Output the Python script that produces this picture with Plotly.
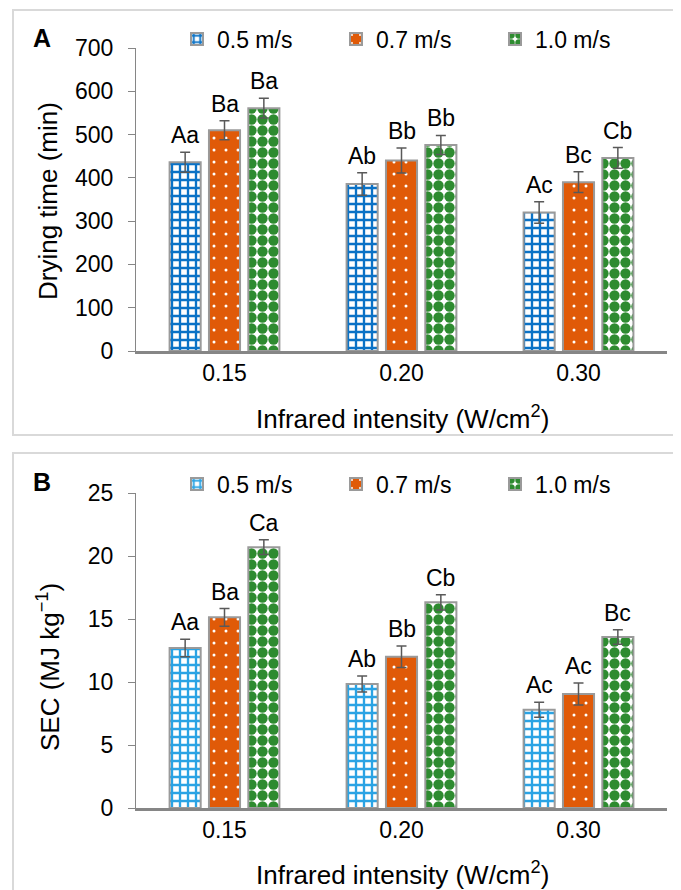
import plotly.graph_objects as go

# ---------------- data ----------------
intensity_labels = ["0.15", "0.20", "0.30"]
series_names = ["0.5 m/s", "0.7 m/s", "1.0 m/s"]

drying_time = {
    "0.5 m/s": [436, 386, 320],
    "0.7 m/s": [510, 440, 390],
    "1.0 m/s": [561, 476, 446],
}
drying_time_err = {
    "0.5 m/s": [23, 26, 25],
    "0.7 m/s": [22, 29, 24],
    "1.0 m/s": [23, 22, 24],
}
drying_time_letters = {
    "0.5 m/s": ["Aa", "Ab", "Ac"],
    "0.7 m/s": ["Ba", "Bb", "Bc"],
    "1.0 m/s": ["Ba", "Bb", "Cb"],
}

sec = {
    "0.5 m/s": [12.7, 9.84, 7.8],
    "0.7 m/s": [15.13, 12.0, 9.05],
    "1.0 m/s": [20.7, 16.32, 13.57],
}
sec_err = {
    "0.5 m/s": [0.7, 0.63, 0.6],
    "0.7 m/s": [0.7, 0.85, 0.87],
    "1.0 m/s": [0.58, 0.6, 0.58],
}
sec_letters = {
    "0.5 m/s": ["Aa", "Ab", "Ac"],
    "0.7 m/s": ["Ba", "Bb", "Ac"],
    "1.0 m/s": ["Ca", "Cb", "Bc"],
}

y_ticks_a = [0, 100, 200, 300, 400, 500, 600, 700]
y_ticks_b = [0, 5, 10, 15, 20, 25]

# ---------------- styles ----------------
PAGE_OFF = 8  # default body margin of the html page
W, H = 681 - PAGE_OFF, 890 - PAGE_OFF
FONT = "Arial, Liberation Sans, sans-serif"
AXIS_GRAY = "#868686"
BAR_EDGE = "#9A9A9A"
ERR_COLOR = "#595959"

def pattern_for(name, panel):
    if name == "0.5 m/s":
        blue = "#0A72C6" if panel == "A" else "#2AA3E4"
        return dict(color="white",
                    pattern=dict(shape="+", fgcolor=blue, bgcolor="white",
                                 fillmode="replace", size=8, solidity=0.5))
    if name == "0.7 m/s":
        return dict(color="#E05A08",
                    pattern=dict(shape=".", fgcolor="white", bgcolor="#E05A08",
                                 fillmode="replace", size=12, solidity=0.05))
    return dict(color="white",
                pattern=dict(shape=".", fgcolor="#2E8B30", bgcolor="white",
                             fillmode="replace", size=11, solidity=0.7))

x_pos = list(range(len(intensity_labels)))
BARGAP = 0.333
BARGROUPGAP = 0.21

fig = go.Figure()

panels = [
    ("A", drying_time, drying_time_err, drying_time_letters, "x", "y", "legend"),
    ("B", sec, sec_err, sec_letters, "x2", "y2", "legend2"),
]

annotations = []
slot = (1 - BARGAP) / len(series_names)
for panel, vals, errs, letters, xa, ya, lg in panels:
    for k, name in enumerate(series_names):
        m = pattern_for(name, panel)
        m["line"] = dict(color=BAR_EDGE, width=2)
        fig.add_trace(go.Bar(
            x=x_pos, y=vals[name], name=name, marker=m,
            error_y=dict(type="data", array=errs[name], color=ERR_COLOR,
                         thickness=1.5, width=5),
            xaxis=xa, yaxis=ya, legend=lg,
        ))
        off = (k - (len(series_names) - 1) / 2) * slot
        for i in x_pos:
            annotations.append(dict(
                x=i + off, y=vals[name][i] + errs[name][i],
                xref=xa, yref=ya, text=letters[name][i], showarrow=False,
                xanchor="center", yanchor="bottom", yshift=2,
                font=dict(family=FONT, size=23, color="black")))

def px_x(p):
    return (p - PAGE_OFF) / W

def px_y(p):
    return 1 - (p - PAGE_OFF) / H

def label(x, y, text, size, angle=0):
    return dict(x=px_x(x), y=px_y(y), xref="paper", yref="paper", text=text,
                textangle=angle, showarrow=False, xanchor="center", yanchor="middle",
                font=dict(family=FONT, size=size, color="black"))

# axis titles & panel letters
annotations += [
    label(48, 201, "Drying time (min)", 26, -90),
    label(402, 417, "Infrared intensity (W/cm<sup>2</sup>)", 26),
    label(48, 667, "SEC (MJ kg<sup>\u22121</sup>)", 26, -90),
    label(402, 873, "Infrared intensity (W/cm<sup>2</sup>)", 26),
    label(42, 38, "<b>A</b>", 25),
    label(42, 482, "<b>B</b>", 25),
]

shapes = [
    dict(type="rect", xref="paper", yref="paper", x0=px_x(13), x1=1.05,
         y0=px_y(435), y1=px_y(10), line=dict(color="#D9D9D9", width=2)),
    dict(type="rect", xref="paper", yref="paper", x0=px_x(13), x1=1.05,
         y0=-0.05, y1=px_y(453), line=dict(color="#D9D9D9", width=2)),
]

xdom = [px_x(136), px_x(667)]
common_x = dict(domain=xdom, range=[-0.5, 2.5], tickvals=x_pos, ticktext=intensity_labels,
                showline=True, linecolor=AXIS_GRAY, linewidth=2.5, ticks="",
                showgrid=False, zeroline=False, automargin=False,
                tickfont=dict(family=FONT, size=23, color="black"))
common_y = dict(showline=True, linecolor=AXIS_GRAY, linewidth=1.2, ticks="outside",
                ticklen=7, tickcolor=AXIS_GRAY, tickwidth=1.2, showgrid=False,
                zeroline=False, ticklabelstandoff=10, automargin=False,
                tickfont=dict(family=FONT, size=23, color="black"))

legend_common = dict(orientation="h", xanchor="left", yanchor="middle",
                     font=dict(family=FONT, size=23, color="black"),
                     entrywidth=114, entrywidthmode="pixels", tracegroupgap=0,
                     bgcolor="rgba(0,0,0,0)", itemclick=False, itemdoubleclick=False)

fig.update_layout(
    template="none",
    width=W, height=H, margin=dict(l=0, r=0, t=0, b=0, autoexpand=False),
    paper_bgcolor="white", plot_bgcolor="white",
    barmode="group", bargap=BARGAP, bargroupgap=BARGROUPGAP,
    xaxis=dict(anchor="y", **common_x),
    yaxis=dict(anchor="x", domain=[px_y(351), px_y(48)], range=[0, 700],
               tickvals=y_ticks_a, **common_y),
    xaxis2=dict(anchor="y2", **common_x),
    yaxis2=dict(anchor="x2", domain=[px_y(808), px_y(493)], range=[0, 25],
                tickvals=y_ticks_b, **common_y),
    legend=dict(x=px_x(177), y=px_y(39), **legend_common),
    legend2=dict(x=px_x(177), y=px_y(484), **legend_common),
    annotations=annotations, shapes=shapes,
    showlegend=True,
)

fig.write_html("out.html")
